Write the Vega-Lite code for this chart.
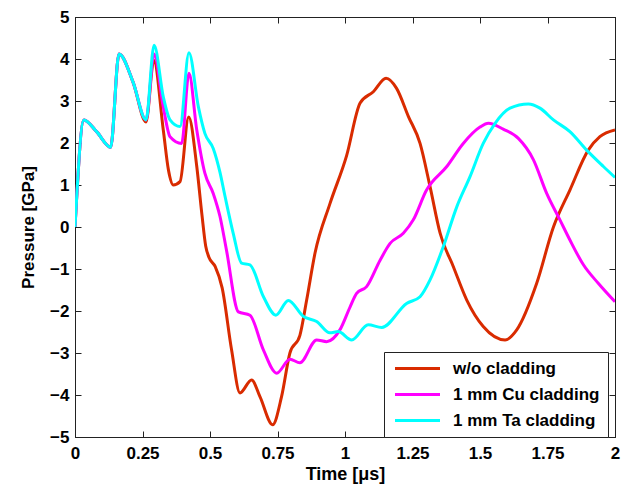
{
  "$schema": "https://vega.github.io/schema/vega-lite/v6.json",
  "width": 540,
  "height": 420,
  "autosize": {"type": "none"},
  "padding": {"left": 75, "top": 17, "right": 14, "bottom": 48},
  "background": "white",
  "config": {
    "view": {"stroke": "#222", "strokeWidth": 1},
    "font": "Liberation Sans",
    "axis": {
      "grid": false,
      "domainColor": "#222",
      "tickColor": "#222",
      "tickSize": -6,
      "labelFont": "Liberation Sans",
      "labelFontWeight": "bold",
      "labelFontSize": 17,
      "labelColor": "black",
      "titleFont": "Liberation Sans",
      "titleFontWeight": "bold",
      "titleFontSize": 17,
      "titleColor": "black"
    },
    "legend": {
      "labelFont": "Liberation Sans",
      "labelFontWeight": "bold",
      "labelFontSize": 17,
      "labelColor": "black"
    }
  },
  "datasets": {
    "curves": [
      {"t": 0, "p": 0, "s": "w/o cladding"},
      {"t": 0.033, "p": 2.55, "s": "w/o cladding"},
      {"t": 0.080, "p": 2.27, "s": "w/o cladding"},
      {"t": 0.132, "p": 1.90, "s": "w/o cladding"},
      {"t": 0.163, "p": 4.12, "s": "w/o cladding"},
      {"t": 0.215, "p": 3.45, "s": "w/o cladding"},
      {"t": 0.263, "p": 2.50, "s": "w/o cladding"},
      {"t": 0.292, "p": 3.97, "s": "w/o cladding"},
      {"t": 0.327, "p": 2.31, "s": "w/o cladding"},
      {"t": 0.346, "p": 1.36, "s": "w/o cladding"},
      {"t": 0.364, "p": 1.00, "s": "w/o cladding"},
      {"t": 0.389, "p": 1.08, "s": "w/o cladding"},
      {"t": 0.421, "p": 2.62, "s": "w/o cladding"},
      {"t": 0.451, "p": 1.44, "s": "w/o cladding"},
      {"t": 0.470, "p": 0.30, "s": "w/o cladding"},
      {"t": 0.484, "p": -0.45, "s": "w/o cladding"},
      {"t": 0.496, "p": -0.72, "s": "w/o cladding"},
      {"t": 0.519, "p": -0.94, "s": "w/o cladding"},
      {"t": 0.545, "p": -1.45, "s": "w/o cladding"},
      {"t": 0.580, "p": -2.93, "s": "w/o cladding"},
      {"t": 0.611, "p": -3.95, "s": "w/o cladding"},
      {"t": 0.654, "p": -3.64, "s": "w/o cladding"},
      {"t": 0.685, "p": -4.04, "s": "w/o cladding"},
      {"t": 0.732, "p": -4.71, "s": "w/o cladding"},
      {"t": 0.765, "p": -4.04, "s": "w/o cladding"},
      {"t": 0.796, "p": -3.00, "s": "w/o cladding"},
      {"t": 0.833, "p": -2.58, "s": "w/o cladding"},
      {"t": 0.858, "p": -1.74, "s": "w/o cladding"},
      {"t": 0.889, "p": -0.62, "s": "w/o cladding"},
      {"t": 0.944, "p": 0.55, "s": "w/o cladding"},
      {"t": 1.006, "p": 1.70, "s": "w/o cladding"},
      {"t": 1.056, "p": 2.95, "s": "w/o cladding"},
      {"t": 1.105, "p": 3.22, "s": "w/o cladding"},
      {"t": 1.152, "p": 3.54, "s": "w/o cladding"},
      {"t": 1.191, "p": 3.30, "s": "w/o cladding"},
      {"t": 1.235, "p": 2.63, "s": "w/o cladding"},
      {"t": 1.278, "p": 1.99, "s": "w/o cladding"},
      {"t": 1.315, "p": 0.96, "s": "w/o cladding"},
      {"t": 1.352, "p": -0.14, "s": "w/o cladding"},
      {"t": 1.401, "p": -0.94, "s": "w/o cladding"},
      {"t": 1.451, "p": -1.74, "s": "w/o cladding"},
      {"t": 1.512, "p": -2.37, "s": "w/o cladding"},
      {"t": 1.593, "p": -2.69, "s": "w/o cladding"},
      {"t": 1.636, "p": -2.45, "s": "w/o cladding"},
      {"t": 1.710, "p": -1.34, "s": "w/o cladding"},
      {"t": 1.772, "p": 0.00, "s": "w/o cladding"},
      {"t": 1.833, "p": 0.88, "s": "w/o cladding"},
      {"t": 1.901, "p": 1.83, "s": "w/o cladding"},
      {"t": 1.944, "p": 2.15, "s": "w/o cladding"},
      {"t": 2.0, "p": 2.31, "s": "w/o cladding"},

      {"t": 0, "p": 0, "s": "1 mm Cu cladding"},
      {"t": 0.033, "p": 2.55, "s": "1 mm Cu cladding"},
      {"t": 0.080, "p": 2.27, "s": "1 mm Cu cladding"},
      {"t": 0.132, "p": 1.90, "s": "1 mm Cu cladding"},
      {"t": 0.163, "p": 4.12, "s": "1 mm Cu cladding"},
      {"t": 0.215, "p": 3.45, "s": "1 mm Cu cladding"},
      {"t": 0.263, "p": 2.55, "s": "1 mm Cu cladding"},
      {"t": 0.293, "p": 4.12, "s": "1 mm Cu cladding"},
      {"t": 0.327, "p": 2.86, "s": "1 mm Cu cladding"},
      {"t": 0.352, "p": 2.15, "s": "1 mm Cu cladding"},
      {"t": 0.395, "p": 1.99, "s": "1 mm Cu cladding"},
      {"t": 0.422, "p": 3.66, "s": "1 mm Cu cladding"},
      {"t": 0.451, "p": 2.31, "s": "1 mm Cu cladding"},
      {"t": 0.481, "p": 1.28, "s": "1 mm Cu cladding"},
      {"t": 0.512, "p": 0.80, "s": "1 mm Cu cladding"},
      {"t": 0.537, "p": 0.25, "s": "1 mm Cu cladding"},
      {"t": 0.561, "p": -0.55, "s": "1 mm Cu cladding"},
      {"t": 0.605, "p": -2.02, "s": "1 mm Cu cladding"},
      {"t": 0.648, "p": -2.10, "s": "1 mm Cu cladding"},
      {"t": 0.698, "p": -2.93, "s": "1 mm Cu cladding"},
      {"t": 0.747, "p": -3.48, "s": "1 mm Cu cladding"},
      {"t": 0.796, "p": -3.15, "s": "1 mm Cu cladding"},
      {"t": 0.833, "p": -3.23, "s": "1 mm Cu cladding"},
      {"t": 0.895, "p": -2.69, "s": "1 mm Cu cladding"},
      {"t": 0.932, "p": -2.73, "s": "1 mm Cu cladding"},
      {"t": 0.981, "p": -2.45, "s": "1 mm Cu cladding"},
      {"t": 1.019, "p": -1.90, "s": "1 mm Cu cladding"},
      {"t": 1.043, "p": -1.58, "s": "1 mm Cu cladding"},
      {"t": 1.080, "p": -1.42, "s": "1 mm Cu cladding"},
      {"t": 1.130, "p": -0.79, "s": "1 mm Cu cladding"},
      {"t": 1.167, "p": -0.39, "s": "1 mm Cu cladding"},
      {"t": 1.216, "p": -0.15, "s": "1 mm Cu cladding"},
      {"t": 1.253, "p": 0.17, "s": "1 mm Cu cladding"},
      {"t": 1.302, "p": 0.88, "s": "1 mm Cu cladding"},
      {"t": 1.377, "p": 1.44, "s": "1 mm Cu cladding"},
      {"t": 1.438, "p": 1.99, "s": "1 mm Cu cladding"},
      {"t": 1.500, "p": 2.38, "s": "1 mm Cu cladding"},
      {"t": 1.531, "p": 2.47, "s": "1 mm Cu cladding"},
      {"t": 1.586, "p": 2.33, "s": "1 mm Cu cladding"},
      {"t": 1.642, "p": 2.11, "s": "1 mm Cu cladding"},
      {"t": 1.698, "p": 1.60, "s": "1 mm Cu cladding"},
      {"t": 1.747, "p": 0.80, "s": "1 mm Cu cladding"},
      {"t": 1.796, "p": 0.17, "s": "1 mm Cu cladding"},
      {"t": 1.833, "p": -0.31, "s": "1 mm Cu cladding"},
      {"t": 1.883, "p": -0.90, "s": "1 mm Cu cladding"},
      {"t": 1.938, "p": -1.34, "s": "1 mm Cu cladding"},
      {"t": 2.0, "p": -1.78, "s": "1 mm Cu cladding"},

      {"t": 0, "p": 0, "s": "1 mm Ta cladding"},
      {"t": 0.033, "p": 2.55, "s": "1 mm Ta cladding"},
      {"t": 0.080, "p": 2.27, "s": "1 mm Ta cladding"},
      {"t": 0.132, "p": 1.90, "s": "1 mm Ta cladding"},
      {"t": 0.163, "p": 4.12, "s": "1 mm Ta cladding"},
      {"t": 0.215, "p": 3.45, "s": "1 mm Ta cladding"},
      {"t": 0.263, "p": 2.55, "s": "1 mm Ta cladding"},
      {"t": 0.293, "p": 4.33, "s": "1 mm Ta cladding"},
      {"t": 0.327, "p": 3.10, "s": "1 mm Ta cladding"},
      {"t": 0.352, "p": 2.55, "s": "1 mm Ta cladding"},
      {"t": 0.389, "p": 2.39, "s": "1 mm Ta cladding"},
      {"t": 0.422, "p": 4.15, "s": "1 mm Ta cladding"},
      {"t": 0.457, "p": 2.86, "s": "1 mm Ta cladding"},
      {"t": 0.481, "p": 2.23, "s": "1 mm Ta cladding"},
      {"t": 0.512, "p": 1.87, "s": "1 mm Ta cladding"},
      {"t": 0.537, "p": 1.30, "s": "1 mm Ta cladding"},
      {"t": 0.555, "p": 0.75, "s": "1 mm Ta cladding"},
      {"t": 0.586, "p": -0.15, "s": "1 mm Ta cladding"},
      {"t": 0.617, "p": -0.86, "s": "1 mm Ta cladding"},
      {"t": 0.648, "p": -0.90, "s": "1 mm Ta cladding"},
      {"t": 0.698, "p": -1.66, "s": "1 mm Ta cladding"},
      {"t": 0.744, "p": -2.10, "s": "1 mm Ta cladding"},
      {"t": 0.790, "p": -1.75, "s": "1 mm Ta cladding"},
      {"t": 0.846, "p": -2.13, "s": "1 mm Ta cladding"},
      {"t": 0.895, "p": -2.25, "s": "1 mm Ta cladding"},
      {"t": 0.944, "p": -2.52, "s": "1 mm Ta cladding"},
      {"t": 0.975, "p": -2.49, "s": "1 mm Ta cladding"},
      {"t": 1.025, "p": -2.69, "s": "1 mm Ta cladding"},
      {"t": 1.086, "p": -2.33, "s": "1 mm Ta cladding"},
      {"t": 1.136, "p": -2.39, "s": "1 mm Ta cladding"},
      {"t": 1.228, "p": -1.82, "s": "1 mm Ta cladding"},
      {"t": 1.278, "p": -1.66, "s": "1 mm Ta cladding"},
      {"t": 1.315, "p": -1.26, "s": "1 mm Ta cladding"},
      {"t": 1.364, "p": -0.47, "s": "1 mm Ta cladding"},
      {"t": 1.414, "p": 0.48, "s": "1 mm Ta cladding"},
      {"t": 1.463, "p": 1.20, "s": "1 mm Ta cladding"},
      {"t": 1.512, "p": 1.99, "s": "1 mm Ta cladding"},
      {"t": 1.556, "p": 2.47, "s": "1 mm Ta cladding"},
      {"t": 1.611, "p": 2.83, "s": "1 mm Ta cladding"},
      {"t": 1.679, "p": 2.93, "s": "1 mm Ta cladding"},
      {"t": 1.722, "p": 2.83, "s": "1 mm Ta cladding"},
      {"t": 1.772, "p": 2.55, "s": "1 mm Ta cladding"},
      {"t": 1.833, "p": 2.27, "s": "1 mm Ta cladding"},
      {"t": 1.895, "p": 1.83, "s": "1 mm Ta cladding"},
      {"t": 1.957, "p": 1.44, "s": "1 mm Ta cladding"},
      {"t": 2.0, "p": 1.18, "s": "1 mm Ta cladding"}
    ]
  },
  "data": {"name": "curves"},
  "layer": [
    {
      "mark": {"type": "line", "strokeWidth": 3, "interpolate": "monotone", "clip": true},
      "encoding": {
        "x": {
          "field": "t", "type": "quantitative",
          "scale": {"domain": [0, 2], "nice": false},
          "axis": {"title": "Time [μs]", "values": [0, 0.25, 0.5, 0.75, 1, 1.25, 1.5, 1.75, 2], "labelExpr": "toString(datum.value)", "labelPadding": 14, "titlePadding": 4, "labelFlush": false, "titleFontSize": 18}
        },
        "y": {
          "field": "p", "type": "quantitative",
          "scale": {"domain": [-5, 5], "nice": false, "zero": false},
          "axis": {"title": "Pressure [GPa]", "values": [-5, -4, -3, -2, -1, 0, 1, 2, 3, 4, 5], "labelPadding": 12, "titlePadding": 12}
        },
        "color": {
          "field": "s", "type": "nominal",
          "sort": ["w/o cladding", "1 mm Cu cladding", "1 mm Ta cladding"],
          "scale": {"domain": ["w/o cladding", "1 mm Cu cladding", "1 mm Ta cladding"], "range": ["#d92b00", "#ff00ff", "#00ffff"]},
          "legend": {
            "title": null,
            "orient": "none",
            "legendX": 309,
            "legendY": 335,
            "fillColor": "white",
            "strokeColor": "#222",
            "padding": 8,
            "symbolType": "M-5,0L5,0",
            "symbolSize": 81,
            "symbolStrokeWidth": 3,
            "symbolOffset": 17,
            "labelOffset": 27,
            "rowPadding": 8
          }
        }
      }
    },
    {
      "mark": {"type": "rule", "opacity": 0},
      "encoding": {
        "x": {
          "field": "t", "type": "quantitative", "aggregate": "min",
          "axis": {"orient": "top", "labels": false, "title": null, "domain": true, "values": [0, 0.25, 0.5, 0.75, 1, 1.25, 1.5, 1.75, 2]}
        },
        "y": {
          "field": "p", "type": "quantitative", "aggregate": "min",
          "axis": {"orient": "right", "labels": false, "title": null, "domain": true, "values": [-5, -4, -3, -2, -1, 0, 1, 2, 3, 4, 5]}
        }
      }
    }
  ],
  "resolve": {"axis": {"x": "independent", "y": "independent"}}
}
